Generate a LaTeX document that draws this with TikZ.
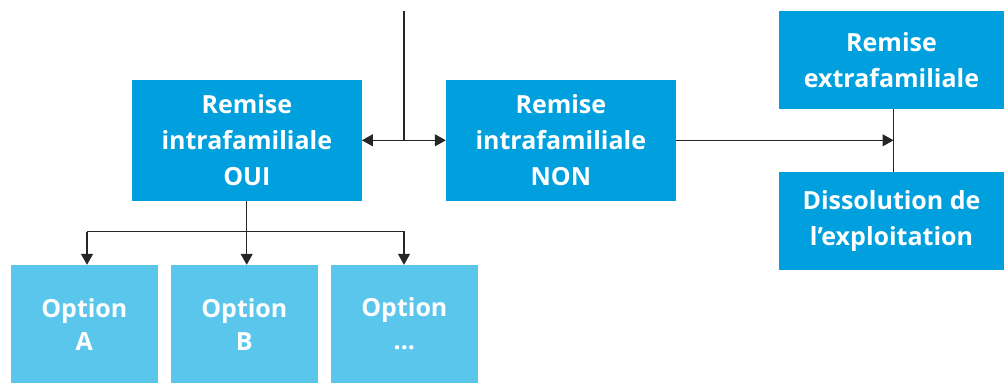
\documentclass[tikz,border=0pt]{standalone}
\usepackage{fontspec}
\setmainfont{Open Sans}
\usetikzlibrary{arrows.meta}
\definecolor{darkbox}{HTML}{00A0DF}
\definecolor{lightbox}{HTML}{5BC6EB}

\begin{document}
\begin{tikzpicture}
  [x=1pt,y=-1pt,font=\bfseries\fontsize{25}{36}\selectfont]
      \tikzstyle{box_style} = [fill=darkbox, text=white, align=center, inner sep=0pt, minimum width=229.7pt, minimum height=120.7pt]
      \tikzstyle{side_style} = [box_style, minimum width=225pt, minimum height=98pt]
      \tikzstyle{option_style} = [box_style, fill=lightbox, minimum width=146.7pt, minimum height=118pt, font=\bfseries\fontsize{25}{33}\selectfont]
      \tikzstyle{edge_style} = [draw=black!85, line width=1.2pt]
      \tikzstyle{tip_style} = [-{Triangle[length=11pt,width=12pt]}]
  \useasboundingbox (0,0) rectangle (1004,383);
  \node[box_style] (oui) at (246.85,140.3) {Remise\\intrafamiliale\\OUI};
  \node[box_style] (non) at (560.85,140.3) {Remise\\intrafamiliale\\NON};
  \node[side_style] (extra) at (891.5,60) {Remise\\extrafamiliale};
  \node[side_style] (dissol) at (891.5,221) {Dissolution de\\l’exploitation};
  \node[option_style] (optA) at (84.35,324) {Option\\A};
  \node[option_style] (optB) at (244.35,324) {Option\\B};
  \node[option_style] (optC) at (404.35,324) {Option\\...};
  \coordinate (top) at (404,11);
  \coordinate (mid) at (404,140.3);
  \coordinate (fork) at (246.7,231.7);
  \coordinate (forkA) at (87,231.7);
  \coordinate (forkC) at (405,231.7);
  \coordinate (join) at (893.5,140.3);
  % top line and the two ways
  \draw[edge_style] (top) -- (mid);
  \draw[edge_style, {Triangle[length=11pt,width=12pt]}-{Triangle[length=11pt,width=12pt]}] (oui) -- (non);
  \draw[edge_style, tip_style] (non) -- (join);
  \draw[edge_style] (extra.south -| join) -- (dissol.north -| join);
  % options
  \draw[edge_style] (oui.south -| fork) -- (fork);
  \draw[edge_style] (forkA) -- (forkC);
  \draw[edge_style, tip_style] (forkA) -- (forkA |- optA.north);
  \draw[edge_style, tip_style] (fork) -- (fork |- optB.north);
  \draw[edge_style, tip_style] (forkC -| mid) -- (mid |- optC.north);
\end{tikzpicture}
\end{document}
